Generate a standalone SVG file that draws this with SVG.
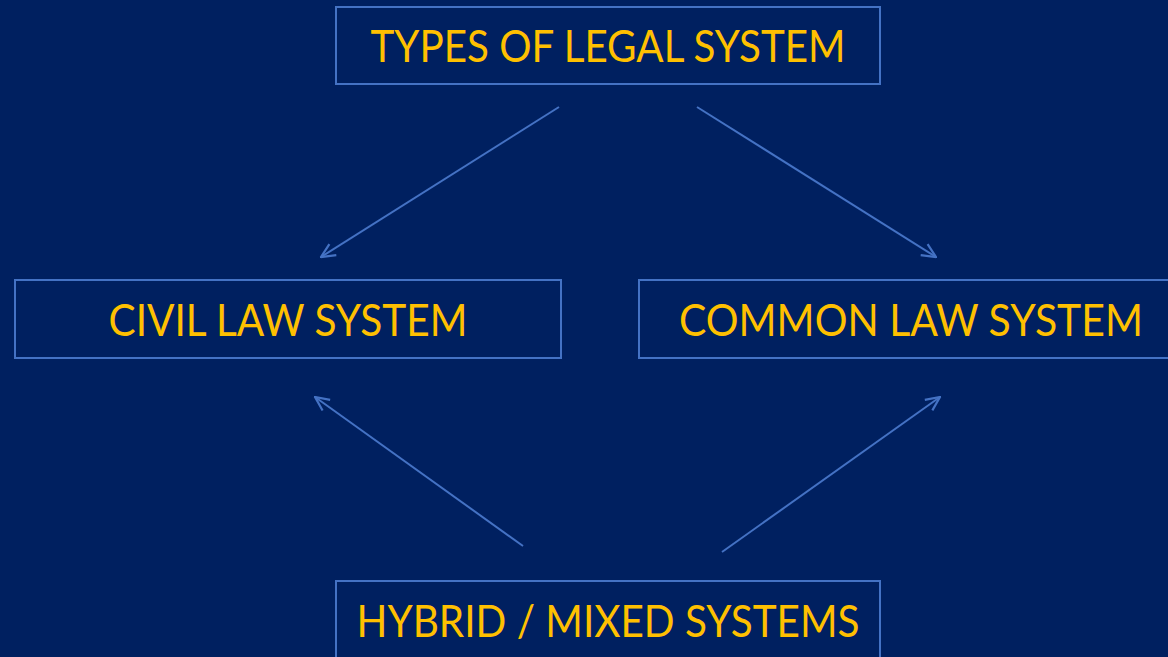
<svg xmlns="http://www.w3.org/2000/svg" width="1168" height="657" viewBox="0 0 1168 657">
<style>
.box{fill:#002060;stroke:#4472C4;stroke-width:2}
.lbl{fill:#FFC000;font-family:Lato,"Open Sans","Liberation Sans",sans-serif;font-size:44px;text-anchor:middle}
.con{stroke:#4472C4;stroke-width:2;fill:none;marker-end:url(#arr)}
</style>
<defs>
<marker id="arr" viewBox="0 0 16 16" refX="15" refY="8" markerWidth="16" markerHeight="16" markerUnits="userSpaceOnUse" orient="auto">
<path d="M1,1.5 L15,8 L1,14.5" fill="none" stroke="#4472C4" stroke-width="2.2"/>
</marker>
</defs>
<rect width="1168" height="657" fill="#002060"/>
<g id="connectors">
<line class="con" x1="559" y1="107" x2="321" y2="257"/>
<line class="con" x1="697" y1="107" x2="936" y2="257"/>
<line class="con" x1="523" y1="546" x2="315" y2="397"/>
<line class="con" x1="722" y1="552" x2="940" y2="397"/>
</g>
<g id="types">
<rect class="box" x="336" y="7" width="544" height="77"/>
<text class="lbl" x="608" y="62" textLength="475" lengthAdjust="spacingAndGlyphs">TYPES OF LEGAL SYSTEM</text>
</g>
<g id="civil">
<rect class="box" x="15" y="280" width="546" height="78"/>
<text class="lbl" x="288" y="336" textLength="359" lengthAdjust="spacingAndGlyphs">CIVIL LAW SYSTEM</text>
</g>
<g id="common">
<rect class="box" x="639" y="280" width="546" height="78"/>
<text class="lbl" x="911" y="336" textLength="464" lengthAdjust="spacingAndGlyphs">COMMON LAW SYSTEM</text>
</g>
<g id="hybrid">
<rect class="box" x="336" y="581" width="544" height="80"/>
<text class="lbl" x="608" y="637" textLength="503" lengthAdjust="spacingAndGlyphs">HYBRID / MIXED SYSTEMS</text>
</g>
</svg>
